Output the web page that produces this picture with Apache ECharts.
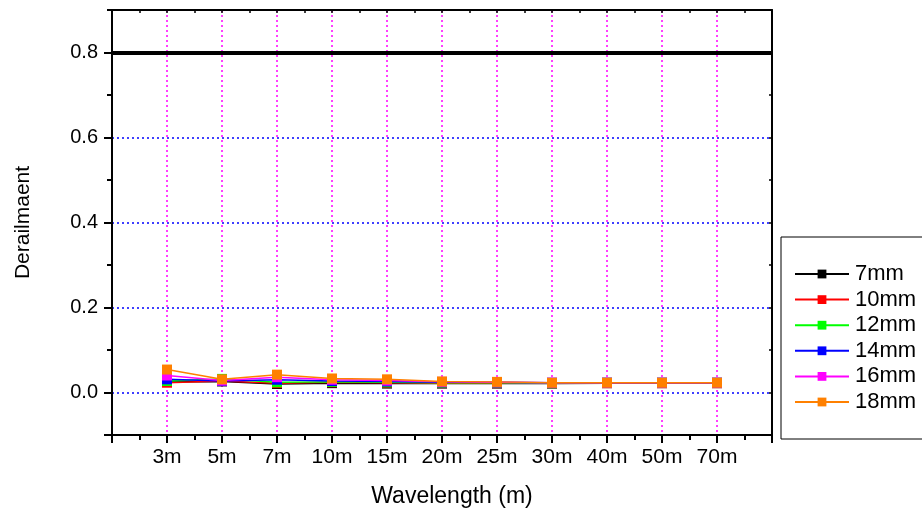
<!DOCTYPE html>
<html>
<head>
<meta charset="utf-8">
<script src="https://cdn.jsdelivr.net/npm/echarts@6/dist/echarts.min.js"></script>
<style>
  html, body { margin: 0; padding: 0; background: #fff; }
  #chart { width: 922px; height: 517px; }
</style>
</head>
<body>
<div id="chart"></div>
<script>
// wavelength categories, placed at x = 1..11 on the axis
var wavelengths = ['3m', '5m', '7m', '10m', '15m', '20m', '25m', '30m', '40m', '50m', '70m'];

var names = ['7mm', '10mm', '12mm', '14mm', '16mm', '18mm'];
var colors = ['#000000', '#ff0000', '#00ff00', '#0000ff', '#ff00ff', '#ff8000'];

var d7mm  = [0.025, 0.026, 0.020, 0.022, 0.021, 0.021, 0.021, 0.021, 0.022, 0.022, 0.022];
var d10mm = [0.023, 0.027, 0.022, 0.024, 0.023, 0.022, 0.022, 0.022, 0.022, 0.022, 0.022];
var d12mm = [0.027, 0.032, 0.024, 0.025, 0.024, 0.023, 0.023, 0.022, 0.023, 0.023, 0.023];
var d14mm = [0.031, 0.027, 0.030, 0.027, 0.026, 0.024, 0.024, 0.023, 0.023, 0.023, 0.023];
var d16mm = [0.040, 0.028, 0.036, 0.030, 0.028, 0.025, 0.024, 0.023, 0.023, 0.023, 0.023];
var d18mm = [0.054, 0.031, 0.042, 0.033, 0.031, 0.026, 0.025, 0.023, 0.023, 0.023, 0.023];

var yLabelValues = [0, 0.2, 0.4, 0.6, 0.8];
var yMajorTicks = [-0.1, 0, 0.2, 0.4, 0.6, 0.8];
var yMinorTicks = [0.1, 0.3, 0.5, 0.7, 0.9];
var limitValue = 0.8;

var allData = [d7mm, d10mm, d12mm, d14mm, d16mm, d18mm];

function toPoints(arr) {
  return arr.map(function (v, i) { return [i + 1, v]; });
}

var series = allData.map(function (arr, k) {
  return {
    name: names[k],
    type: 'line',
    data: toPoints(arr),
    symbol: 'rect',
    symbolSize: 10,
    color: colors[k],
    lineStyle: { width: 1.5, color: colors[k] },
    itemStyle: { color: colors[k] },
    z: 3 + k
  };
});

// thick reference line at 0.8
series[0].markLine = {
  silent: true,
  symbol: ['none', 'none'],
  label: { show: false },
  lineStyle: { color: '#000', width: 4, type: 'solid' },
  data: [{ yAxis: limitValue }]
};

var font = 'Liberation Sans, Arial, sans-serif';
var yRange = { min: -0.1, max: 0.9 };

var myChart = echarts.init(document.getElementById('chart'));
myChart.setOption({
  animation: false,
  backgroundColor: '#fff',
  grid: { left: 112, top: 10, width: 660, height: 425, outerBoundsMode: 'none', containLabel: false },
  legend: {
    data: names,
    orient: 'vertical',
    left: 794,
    top: 263,
    padding: 0,
    itemWidth: 54,
    itemHeight: 11,
    itemGap: 3.6,
    textStyle: { fontSize: 22, fontFamily: font, color: '#000', lineHeight: 22, padding: [0, 0, 0, 1] }
  },
  graphic: [{
    type: 'rect',
    shape: { x: 781, y: 237, width: 200, height: 202 },
    style: { fill: 'none', stroke: '#000', lineWidth: 1 },
    z: -1
  }],
  xAxis: [{
    type: 'value',
    min: 0, max: 12, interval: 1,
    position: 'bottom',
    name: 'Wavelength (m)',
    nameLocation: 'middle',
    nameGap: 50,
    nameTextStyle: { fontSize: 23, fontFamily: font, color: '#000', padding: [0, 0, 0, 20] },
    axisLine: { onZero: false, lineStyle: { color: '#000', width: 2 } },
    axisTick: { show: true, inside: false, length: 8, lineStyle: { color: '#000', width: 2 } },
    minorTick: { show: true, splitNumber: 2, length: 5, lineStyle: { color: '#000', width: 2 } },
    axisLabel: {
      fontSize: 21, fontFamily: font, color: '#000', margin: 12,
      formatter: function (v) { return (v >= 1 && v <= wavelengths.length) ? wavelengths[v - 1] : ''; }
    },
    splitLine: { show: true, lineStyle: { color: '#ff00ff', type: [2, 3], width: 1.5 } }
  }, {
    type: 'value',
    min: 0, max: 12, interval: 1,
    position: 'top',
    axisLine: { onZero: false, lineStyle: { color: '#000', width: 2 } },
    axisTick: { show: true, inside: true, length: 3, lineStyle: { color: '#000', width: 1.5 } },
    minorTick: { show: true, splitNumber: 2, length: 3, lineStyle: { color: '#000', width: 1.5 } },
    axisLabel: { show: false },
    splitLine: { show: false }
  }],
  yAxis: [{
    type: 'value',
    min: yRange.min, max: yRange.max,
    position: 'left',
    name: 'Derailmaent',
    nameLocation: 'middle',
    nameGap: 78,
    nameTextStyle: { fontSize: 21, fontFamily: font, color: '#000' },
    axisLine: { onZero: false, lineStyle: { color: '#000', width: 2 } },
    axisTick: { show: true, inside: false, length: 8, customValues: yMajorTicks, lineStyle: { color: '#000', width: 2 } },
    axisLabel: {
      fontSize: 20, fontFamily: font, color: '#000', margin: 14,
      customValues: yLabelValues,
      formatter: function (v) { return v.toFixed(1); }
    },
    splitLine: { show: false }
  }, {
    // minor ticks on the left
    type: 'value',
    min: yRange.min, max: yRange.max,
    position: 'left',
    axisLine: { show: false, onZero: false },
    axisTick: { show: true, inside: false, length: 5, customValues: yMinorTicks, lineStyle: { color: '#000', width: 2 } },
    axisLabel: { show: false },
    splitLine: { show: false }
  }, {
    // blue dotted grid lines
    type: 'value',
    min: yRange.min, max: yRange.max,
    position: 'left',
    axisLine: { show: false, onZero: false },
    axisTick: { show: false, customValues: yLabelValues },
    axisLabel: { show: false, customValues: yLabelValues },
    splitLine: { show: true, lineStyle: { color: '#0000ff', type: [2, 3], width: 1.5 } }
  }, {
    type: 'value',
    min: yRange.min, max: yRange.max,
    position: 'right',
    axisLine: { show: true, onZero: false, lineStyle: { color: '#000', width: 2 } },
    axisTick: { show: true, inside: true, length: 3, customValues: yMajorTicks.concat(yMinorTicks), lineStyle: { color: '#000', width: 1.5 } },
    axisLabel: { show: false },
    splitLine: { show: false }
  }],
  series: series
});
</script>
</body>
</html>
